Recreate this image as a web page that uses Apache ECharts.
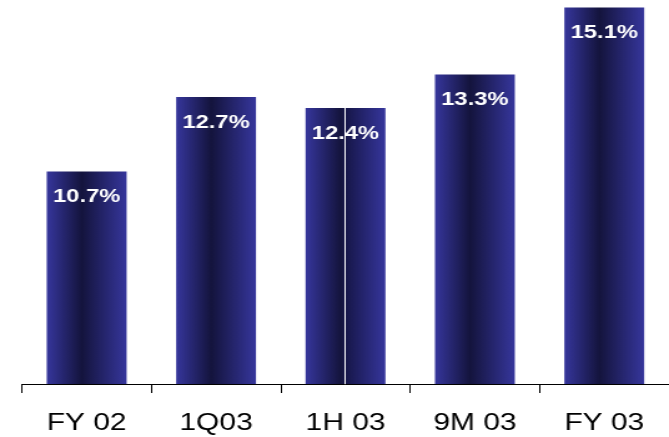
<!DOCTYPE html>
<html>
<head>
<meta charset="utf-8">
<script src="https://cdn.jsdelivr.net/npm/echarts@6/dist/echarts.min.js"></script>
<style>
  html, body { margin: 0; padding: 0; background: #fff; overflow: hidden; }
  /* the original picture is stretched sideways, so draw narrow and widen it */
  #chart { width: 536px; height: 437px; transform: scaleX(1.2481); transform-origin: 0 0; }
</style>
</head>
<body>
<div id="chart"></div>
<script>
var categories = ['FY 02', '1Q03', '1H 03', '9M 03', 'FY 03'];
var margins = [10.7, 12.7, 12.4, 13.3, 15.1];

function barFill(split) {
    // dark band in the middle, lighter blue at the edges
    var stops = [
        { offset: 0, color: '#36369c' },
        { offset: 0.44, color: '#14143d' },
        { offset: 1, color: '#36369c' }
    ];
    if (split) {
        stops = [
            { offset: 0, color: '#36369c' },
            { offset: 0.44, color: '#14143d' },
            { offset: 0.49, color: '#17174a' },
            { offset: 0.491, color: '#ffffff' },
            { offset: 0.507, color: '#ffffff' },
            { offset: 0.508, color: '#17174a' },
            { offset: 1, color: '#36369c' }
        ];
    }
    return new echarts.graphic.LinearGradient(0, 0, 1, 0, stops);
}

var myChart = echarts.init(document.getElementById('chart'));
var option = {
    animation: false,
    grid: { left: 17.6, top: 0, width: 521, height: 384 },
    xAxis: {
        type: 'category',
        data: categories,
        axisLine: { lineStyle: { color: '#000', width: 1 } },
        axisTick: { show: true, interval: 0, length: 9, lineStyle: { color: '#000', width: 1 } },
        axisLabel: {
            color: '#000',
            fontFamily: 'Liberation Sans, Arial, sans-serif',
            fontSize: 24,
            margin: 27
        }
    },
    yAxis: {
        type: 'value',
        min: 5,
        max: 15.3,
        show: false,
        splitLine: { show: false }
    },
    series: [{
        type: 'bar',
        barWidth: 64,
        data: margins.map(function (v, i) {
            return { value: v, itemStyle: { color: barFill(i === 2) } };
        }),
        label: {
            show: true,
            position: 'insideTop',
            distance: 16,
            formatter: function (p) { return p.value.toFixed(1) + '%'; },
            color: '#fff',
            fontFamily: 'Liberation Sans, Arial, sans-serif',
            fontWeight: 'bold',
            fontSize: 19
        }
    }]
};
myChart.setOption(option);
</script>
</body>
</html>
